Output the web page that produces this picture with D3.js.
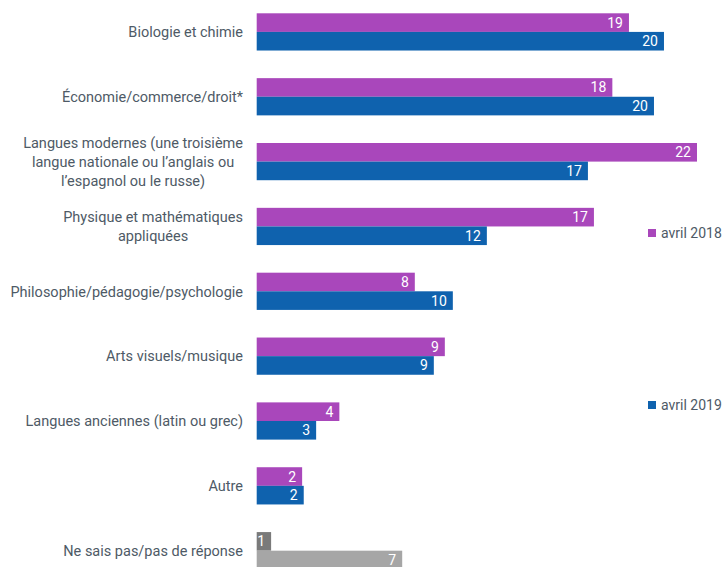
<!DOCTYPE html>
<html>
<head>
<meta charset="utf-8">
<script src="https://cdn.jsdelivr.net/npm/d3@7"></script>
<style>
  html, body { margin: 0; padding: 0; background: #fff; }
  svg { display: block; }
</style>
</head>
<body>
<svg id="chart" width="725" height="567"></svg>
<script>
const categories = [
  ["Biologie et chimie"],
  ["Économie/commerce/droit*"],
  ["Langues modernes (une troisième", "langue nationale ou l’anglais ou", "l’espagnol ou le russe)"],
  ["Physique et mathématiques", "appliquées"],
  ["Philosophie/pédagogie/psychologie"],
  ["Arts visuels/musique"],
  ["Langues anciennes (latin ou grec)"],
  ["Autre"],
  ["Ne sais pas/pas de réponse"]
];
const seriesNames = ["avril 2018", "avril 2019"];
const values2018 = [18.6, 17.77, 22.0, 16.85, 7.9, 9.4, 4.13, 2.27, 0.72];
const values2019 = [20.35, 19.85, 16.55, 11.5, 9.8, 8.85, 2.97, 2.35, 7.27];
const labels2018 = ["19", "18", "22", "17", "8", "9", "4", "2", "1"];
const labels2019 = ["20", "20", "17", "12", "10", "9", "3", "2", "7"];

const colors = { "avril 2018": "#a947bb", "avril 2019": "#0f62ae" };
const grayColors = { "avril 2018": "#7a7a7a", "avril 2019": "#a6a6a6" };
const textColor = "#4e5a66";
const font = "Roboto, 'Noto Sans', sans-serif";

const svg = d3.select("#chart");
const x0 = 256.7;
const x = d3.scaleLinear().domain([0, 22]).range([x0, x0 + 440.3]);
const idx = d3.range(categories.length);
const y = d3.scaleBand().domain(idx).range([13.3, 569.3]).paddingInner(0.426).paddingOuter(0);
const ySub = d3.scaleBand().domain(seriesNames).range([0, y.bandwidth()]);

const rows = idx.map(i => ({
  i,
  lines: categories[i],
  bars: [
    { s: "avril 2018", v: values2018[i], label: labels2018[i] },
    { s: "avril 2019", v: values2019[i], label: labels2019[i] }
  ]
}));

const g = svg.selectAll("g.row").data(rows).join("g")
  .attr("class", "row")
  .attr("transform", d => `translate(0,${y(d.i)})`);

const isGray = d => d.i === categories.length - 1;

g.each(function(d) {
  const row = d3.select(this);
  row.selectAll("rect").data(d.bars).join("rect")
    .attr("x", x(0))
    .attr("y", b => ySub(b.s))
    .attr("width", b => x(b.v) - x(0))
    .attr("height", ySub.bandwidth())
    .attr("fill", b => isGray(d) ? grayColors[b.s] : colors[b.s]);
  row.selectAll("text.val").data(d.bars).join("text")
    .attr("class", "val")
    .attr("x", b => x(b.v) - 6)
    .attr("y", b => ySub(b.s) + ySub.bandwidth() / 2)
    .attr("dy", "0.36em")
    .attr("text-anchor", "end")
    .attr("fill", "#fff")
    .style("font-family", font)
    .style("font-size", "14px")
    .text(b => b.label);

  // category label: block right aligned, lines centered
  const lineH = 19;
  const n = d.lines.length;
  const cy = y.bandwidth() / 2;
  const t = row.append("g").attr("class", "cat");
  const texts = t.selectAll("text").data(d.lines).join("text")
    .attr("y", (l, k) => cy + (k - (n - 1) / 2) * lineH)
    .attr("dy", "0.36em")
    .attr("text-anchor", "middle")
    .attr("fill", textColor)
    .style("font-family", font)
    .style("font-size", "14.5px")
    .text(l => l);
  let maxW = 0;
  texts.each(function() { maxW = Math.max(maxW, this.getComputedTextLength()); });
  texts.attr("x", 243 - maxW / 2);
});

// legend
const legendY = { "avril 2018": 229, "avril 2019": 401 };
const leg = svg.selectAll("g.legend").data(seriesNames).join("g")
  .attr("class", "legend")
  .attr("transform", s => `translate(648,${legendY[s]})`);
leg.append("rect").attr("width", 8).attr("height", 8).attr("fill", s => colors[s]);
leg.append("text")
  .attr("x", 13).attr("y", 4).attr("dy", "0.36em")
  .attr("fill", textColor)
  .style("font-family", font)
  .style("font-size", "14px")
  .text(s => s);
</script>
</body>
</html>
